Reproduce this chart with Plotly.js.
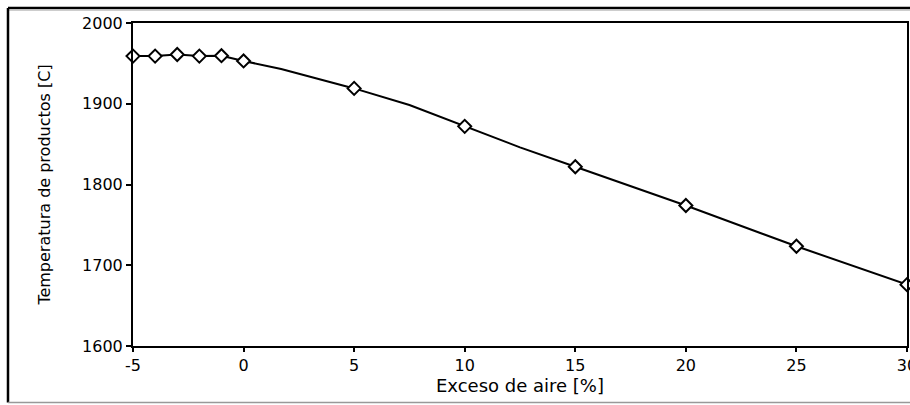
<!DOCTYPE html>
<html>
<head>
<meta charset="utf-8">
<script src="https://cdn.plot.ly/plotly-3.0.1.min.js"></script>
<style>
html,body{margin:0;padding:0;background:#fff;}
#chart{width:910px;height:405px;}
</style>
</head>
<body>
<div id="chart"></div>
<script>
// Marked data points
const exceso = [-5, -4, -3, -2, -1, 0, 5, 10, 15, 20, 25, 30];
const temperatura = [1959, 1959, 1961, 1959, 1959.5, 1953, 1919, 1872, 1822, 1774, 1723.5, 1676];
// Curve points (line only, includes unmarked intermediate values)
const excesoCurva = [-5, -4, -3, -2, -1, 0, 1.7, 5, 7.5, 10, 12.5, 15, 20, 25, 30];
const tempCurva = [1959, 1959, 1961, 1959, 1959.5, 1953, 1943, 1919, 1898.5, 1872, 1846, 1822, 1774, 1723.5, 1676];
const xTicks = [-5, 0, 5, 10, 15, 20, 25, 30];
const yTicks = [1600, 1700, 1800, 1900, 2000];

const font = '"DejaVu Sans", Arial, sans-serif';

const traces = [
  {
    x: excesoCurva, y: tempCurva, type: 'scatter', mode: 'lines',
    line: {color: '#000', width: 2, shape: 'linear'},
    cliponaxis: false, hoverinfo: 'skip', showlegend: false
  },
  {
    x: exceso, y: temperatura, type: 'scatter', mode: 'markers',
    marker: {symbol: 'diamond', size: 10, color: '#fff', line: {color: '#000', width: 2}},
    cliponaxis: false, showlegend: false
  }
];

const layout = {
  width: 910, height: 405,
  margin: {l: 133, r: 3, t: 23, b: 58.5},
  paper_bgcolor: '#fff', plot_bgcolor: '#fff',
  font: {family: font, color: '#000', size: 16},
  xaxis: {
    range: [-5, 30], tickvals: xTicks, ticktext: xTicks.map(String),
    showgrid: false, zeroline: false,
    showline: true, linecolor: '#000', linewidth: 2, mirror: true,
    ticks: 'outside', ticklen: 4, tickwidth: 2, tickcolor: '#000',
    ticklabeloverflow: 'allow',
    tickfont: {family: font, size: 16, color: '#000'},
    title: {text: 'Exceso de aire [%]', font: {family: font, size: 18, color: '#000'}, standoff: 2}
  },
  yaxis: {
    range: [1600, 2000], tickvals: yTicks, ticktext: yTicks.map(String),
    showgrid: false, zeroline: false,
    showline: true, linecolor: '#000', linewidth: 2, mirror: true,
    ticks: 'outside', ticklen: 5, tickwidth: 2, tickcolor: '#000',
    tickfont: {family: font, size: 16, color: '#000'},
    title: {text: 'Temperatura de productos [C]', font: {family: font, size: 16, color: '#000'}, standoff: 27}
  },
  shapes: [
    {type: 'line', xref: 'paper', yref: 'paper', x0: -0.1615, x1: 1.01, y0: 1.0464, y1: 1.0464, line: {color: '#000', width: 2.5}},
    {type: 'line', xref: 'paper', yref: 'paper', x0: -0.1615, x1: 1.01, y0: 1.039, y1: 1.039, line: {color: '#c8c8c8', width: 1}},
    {type: 'line', xref: 'paper', yref: 'paper', x0: -0.1615, x1: -0.1615, y0: 1.0464, y1: -0.1747, line: {color: '#000', width: 2.5}},
    {type: 'line', xref: 'paper', yref: 'paper', x0: -0.1615, x1: 1.01, y0: -0.1747, y1: -0.1747, line: {color: '#999', width: 1.5}}
  ]
};

Plotly.newPlot('chart', traces, layout, {displayModeBar: false, staticPlot: true});
</script>
</body>
</html>
